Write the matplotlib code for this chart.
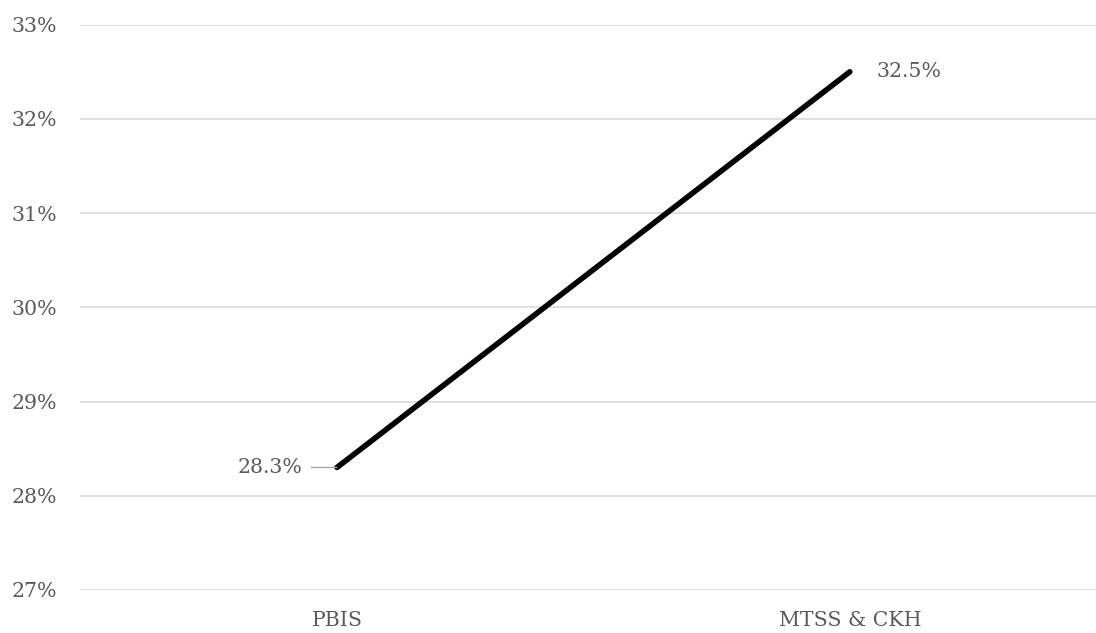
import matplotlib.pyplot as plt
from matplotlib.ticker import FuncFormatter

categories = ["PBIS", "MTSS & CKH"]
values = [28.3, 32.5]
y_ticks = [27, 28, 29, 30, 31, 32, 33]

text_color = "#595959"
label_size = 14.8
plt.rcParams["font.family"] = ["DejaVu Serif"]

fig = plt.figure(figsize=(10.96, 6.33), dpi=100)
ax = fig.add_axes([0.073, 0.068, 0.927, 0.893])

x = list(range(len(categories)))
ax.plot(x, values, color="black", linewidth=4, solid_capstyle="round", zorder=3)

ax.set_xlim(-0.501, 1.48)
ax.set_ylim(27, 33)
ax.set_yticks(y_ticks)
ax.yaxis.set_major_formatter(FuncFormatter(lambda v, p: f"{v:.0f}%"))
ax.set_xticks(x)
ax.set_xticklabels(categories)
ax.grid(axis="y", color="#d9d9d9", linewidth=1.2)
ax.set_axisbelow(True)
for s in ax.spines.values():
    s.set_visible(False)
ax.tick_params(length=0, colors=text_color, labelsize=label_size)
ax.tick_params(axis="y", pad=16.5)
ax.tick_params(axis="x", pad=15)

# first point: label off to the left with a short leader line
ax.annotate(f"{values[0]:.1f}%", xy=(x[0], values[0]), xytext=(-24.5, 0),
            textcoords="offset points", ha="right", va="center",
            fontsize=label_size, color=text_color,
            arrowprops=dict(arrowstyle="-", color="#a6a6a6", lw=1,
                            shrinkA=4, shrinkB=0))
ax.annotate(f"{values[1]:.1f}%", xy=(x[1], values[1]), xytext=(19, 0),
            textcoords="offset points", ha="left", va="center",
            fontsize=label_size, color=text_color)

fig.savefig("out.png", dpi=100)
